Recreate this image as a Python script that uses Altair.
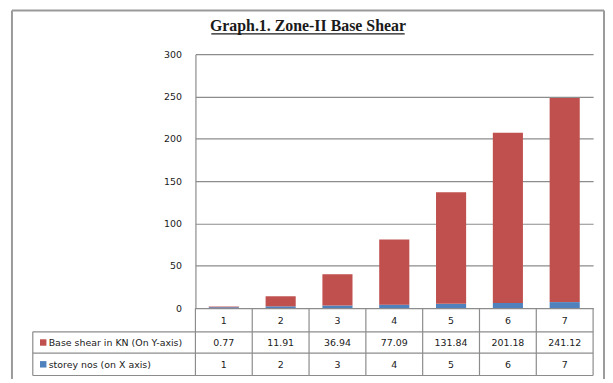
import altair as alt
import pandas as pd

# ---- data ----
storeys = ["1", "2", "3", "4", "5", "6", "7"]
base_shear = [0.77, 11.91, 36.94, 77.09, 131.84, 201.18, 241.12]
storey_nos = [1, 2, 3, 4, 5, 6, 7]
series_names = ["Base shear in KN (On Y-axis)", "storey nos (on X axis)"]
series_colors = ["#C0504D", "#4F81BD"]
y_ticks = [0, 50, 100, 150, 200, 250, 300]
title_text = "Graph.1. Zone-II Base Shear"

# ---- tables built from the lists ----
rows = []
for s, bs, sn in zip(storeys, base_shear, storey_nos):
    rows.append({"storey": s, "series": series_names[1], "value": sn, "ord": 0})
    rows.append({"storey": s, "series": series_names[0], "value": bs, "ord": 1})
df = pd.DataFrame(rows)
cat_df = pd.DataFrame({"storey": storeys, "bs": base_shear, "sn": storey_nos})
one = pd.DataFrame({"a": [0]})

W, H = 401, 256
GRID = "#8c8c8c"
FONT = "DejaVu Sans"
FS = 9.5
TXT = "#1a1a1a"

xscale = alt.Scale(domain=storeys, paddingInner=0, paddingOuter=0)
X = lambda **kw: alt.X("storey:N", scale=xscale, axis=None, **kw)

bars = alt.Chart(df).mark_bar(width=alt.RelativeBandSize(0.53)).encode(
    x=X(),
    y=alt.Y("value:Q", stack="zero",
            scale=alt.Scale(domain=[0, 300], nice=False),
            axis=alt.Axis(values=y_ticks, title=None, grid=True, gridColor=GRID,
                          gridWidth=1.2, domainColor=GRID, domainWidth=1.2,
                          ticks=False, labelPadding=14, labelFont=FONT,
                          labelFontSize=FS, labelColor=TXT)),
    color=alt.Color("series:N", scale=alt.Scale(domain=series_names, range=series_colors),
                    legend=None),
    order=alt.Order("ord:Q"),
)

layers = [bars]

# table vertical lines at cell starts
r_top, r1, r2, r_bot = 256, 280, 301.5, 324
layers.append(alt.Chart(cat_df).mark_rule(color=GRID, strokeWidth=1.2).encode(
    x=X(bandPosition=0), y=alt.value(r_top), y2=alt.value(r_bot)))
layers.append(alt.Chart(one).mark_rule(color=GRID, strokeWidth=1.2).encode(
    x=alt.value(W), y=alt.value(r_top), y2=alt.value(r_bot)))
layers.append(alt.Chart(one).mark_rule(color=GRID, strokeWidth=1.2).encode(
    x=alt.value(-164), y=alt.value(r1), y2=alt.value(r_bot)))
for py in [r1, r2, r_bot]:
    layers.append(alt.Chart(one).mark_rule(color=GRID, strokeWidth=1.2).encode(
        x=alt.value(-164), x2=alt.value(W), y=alt.value(py)))

# table texts
tkw = dict(font=FONT, fontSize=FS, color=TXT, baseline="middle", align="center")
layers.append(alt.Chart(cat_df).mark_text(**tkw).encode(
    x=X(), y=alt.value((r_top + r1) / 2 + 1), text="storey:N"))
layers.append(alt.Chart(cat_df).mark_text(**tkw).encode(
    x=X(), y=alt.value((r1 + r2) / 2 + 1), text=alt.Text("bs:Q", format=".2f")))
layers.append(alt.Chart(cat_df).mark_text(**tkw).encode(
    x=X(), y=alt.value((r2 + r_bot) / 2 + 1), text=alt.Text("sn:Q")))

# legend cells
for name, col, (a, b) in zip(series_names, series_colors, [(r1, r2), (r2, r_bot)]):
    yc = (a + b) / 2
    layers.append(alt.Chart(one).mark_square(size=42, color=col, opacity=1).encode(
        x=alt.value(-153.5), y=alt.value(yc)))
    layers.append(alt.Chart(one).mark_text(font=FONT, fontSize=FS, color=TXT,
                                           baseline="middle", align="left", text=name).encode(
        x=alt.value(-148), y=alt.value(yc + 1)))

# title with underline
layers.append(alt.Chart(one).mark_text(text=title_text, font="Liberation Serif",
                                       fontWeight="bold", fontSize=16, color="#1a1a1a",
                                       align="center", baseline="alphabetic").encode(
    x=alt.value(113.5), y=alt.value(-23)))
layers.append(alt.Chart(one).mark_rule(color="#1a1a1a", strokeWidth=1.3).encode(
    x=alt.value(16), x2=alt.value(211), y=alt.value(-20.5)))

# outer frame
FR = "#9a9a9a"
layers.append(alt.Chart(one).mark_rule(color=FR, strokeWidth=2).encode(
    x=alt.value(-185), y=alt.value(-44), y2=alt.value(340)))
layers.append(alt.Chart(one).mark_rule(color=FR, strokeWidth=2).encode(
    x=alt.value(-185), x2=alt.value(412), y=alt.value(-44)))
layers.append(alt.Chart(one).mark_rule(color=FR, strokeWidth=2).encode(
    x=alt.value(412), y=alt.value(-44), y2=alt.value(340)))

chart = alt.layer(*layers).properties(
    width=W, height=H,
    autosize=alt.AutoSizeParams(type="none"),
    padding={"left": 189, "top": 45, "right": 12, "bottom": 70},
).configure_view(stroke=None)

chart.save("out.html", embed_options={"renderer": "svg", "actions": False})
